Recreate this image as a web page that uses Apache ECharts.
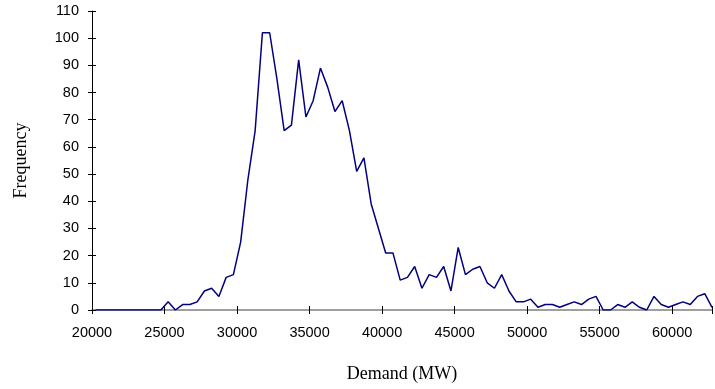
<!DOCTYPE html>
<html>
<head>
<meta charset="utf-8">
<script src="https://cdn.jsdelivr.net/npm/echarts@6/dist/echarts.min.js"></script>
<style>
html,body{margin:0;padding:0;background:#fff;}
#c{width:715px;height:389px;}
</style>
</head>
<body>
<div id="c"></div>
<script>
// Bin centres (MW) and frequencies
var demandStart = 20250;
var binWidth = 500;
var frequency = [
  0,0,0,0,0,0,0,0,0,0,
  3,0,2,2,3,7,8,5,12,13,
  25,48,66,102,102,85,66,68,92,71,
  77,89,82,73,77,66,51,56,39,30,
  21,21,11,12,16,8,13,12,16,7,
  23,13,15,16,10,8,13,7,3,3,
  4,1,2,2,1,2,3,2,4,5,
  0,0,2,1,3,1,0,5,2,1,
  2,3,2,5,6,1
];
var demand = frequency.map(function(_, i){ return demandStart + i*binWidth; });
var xTicks = [20000,25000,30000,35000,40000,45000,50000,55000,60000];
var yTicks = [0,10,20,30,40,50,60,70,80,90,100,110];

var seriesData = demand.map(function(d,i){ return [d, frequency[i]]; });

var chart = echarts.init(document.getElementById('c'), null, {renderer:'canvas'});
var lab = {fontFamily:'Liberation Sans, Arial, sans-serif', fontSize:14.5, color:'#000'};
chart.setOption({
  animation:false,
  grid:{left:92, right:2, top:11, bottom:79, containLabel:false},
  xAxis:[{
    type:'value', min:20000, max:62750, interval:5000,
    axisLine:{lineStyle:{color:'#808080', width:1.5}},
    axisTick:{length:4, lineStyle:{color:'#000', width:1}},
    axisLabel:Object.assign({margin:15, formatter:function(v){return xTicks.indexOf(v)>=0? String(v):'';}}, lab),
    splitLine:{show:false},
    name:'Demand (MW)', nameLocation:'middle', nameGap:55,
    nameTextStyle:{fontFamily:'Liberation Serif, Times New Roman, serif', fontSize:18, color:'#000'}
  },{
    type:'value', min:20000, max:62750, interval:5000, position:'bottom',
    axisLine:{show:false},
    axisTick:{inside:true, length:4, lineStyle:{color:'#000', width:1}},
    axisLabel:{show:false}, splitLine:{show:false}
  }],
  yAxis:[{
    type:'value', min:0, max:110, interval:10,
    axisLine:{show:true, lineStyle:{color:'#000', width:1}},
    axisTick:{show:true, length:4, lineStyle:{color:'#000'}},
    axisLabel:Object.assign({margin:13, formatter:function(v){return yTicks.indexOf(v)>=0? String(v):'';}}, lab),
    splitLine:{show:false},
    name:'Frequency', nameLocation:'middle', nameGap:62, nameRotate:90,
    nameTextStyle:{fontFamily:'Liberation Serif, Times New Roman, serif', fontSize:18, color:'#000'}
  },{
    type:'value', min:0, max:110, interval:10, position:'left',
    axisLine:{show:false},
    axisTick:{show:true, inside:true, length:4, lineStyle:{color:'#000'}},
    axisLabel:{show:false}, splitLine:{show:false}
  }],
  series:[{
    type:'line', data:seriesData, xAxisIndex:0, yAxisIndex:0,
    showSymbol:false, symbol:'none',
    lineStyle:{color:'#000080', width:1.5},
    z:5
  }]
});
</script>
</body>
</html>
